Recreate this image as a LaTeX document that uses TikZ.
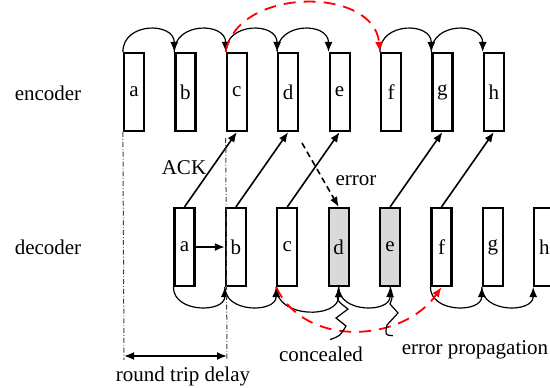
\documentclass[tikz,border=0pt]{standalone}
\usepackage{fontspec}
\setmainfont{Liberation Serif}
\usepackage{tikz}
\usetikzlibrary{arrows.meta,calc,positioning}

\begin{document}
\begin{tikzpicture}[x=0.5pt, y=0.5pt, font=\fontsize{10.5}{12}\selectfont,
  frame/.style={draw, line width=1.1pt, minimum width=10pt, minimum height=39pt, inner sep=0pt},
  lost/.style={frame, fill=black!15},
  hop/.style={line width=0.6pt, -{Latex[length=5pt,width=4pt]}},
  ack/.style={line width=0.8pt, -{Latex[length=5pt,width=4pt]}},
  jump/.style={red, line width=0.9pt, dash pattern=on 6pt off 4pt, -{Latex[length=5pt,width=4pt]}},
  guide/.style={gray!50!black, line width=0.5pt, dash pattern=on 2.5pt off 1pt on 0.4pt off 1pt},
  callout/.style={line width=0.6pt}]
\useasboundingbox (0,0) rectangle (550,-387);
\node (enc) at (48,-93) {encoder};
\node (dec) at (48,-247) {decoder};
% encoder
\node[frame] (ea) at (134,-92) {a};
\node[frame] (eb) at (185.4,-92) {b};
\node[frame] (ec) at (236.8,-92) {c};
\node[frame] (ed) at (288.2,-92) {d};
\node[frame] (ee) at (339.6,-92) {e};
\node[frame] (ef) at (391,-92) {f};
\node[frame] (eg) at (442.4,-92) {g};
\node[frame] (eh) at (493.8,-92) {h};
% decoder
\node[frame] (da) at (184.5,-247) {a};
\node[frame] (db) at (235.9,-247) {b};
\node[frame] (dc) at (287.3,-247) {c};
\node[lost] (dd) at (338.7,-247) {d};
\node[lost] (de) at (390.1,-247) {e};
\node[frame] (df) at (441.5,-247) {f};
\node[frame] (dg) at (492.9,-247) {g};
\node[frame] (dh) at (544.3,-247) {h};
\draw[hop] (ea.north west) to[out=90, in=90, looseness=1.5] (eb.north west);
\draw[hop] (eb.north west) to[out=90, in=90, looseness=1.5] (ec.north west);
\draw[hop] (ec.north west) to[out=90, in=90, looseness=1.5] (ed.north west);
\draw[hop] (ed.north west) to[out=90, in=90, looseness=1.5] (ee.north west);
\draw[hop] (ef.north west) to[out=90, in=90, looseness=1.5] (eg.north west);
\draw[hop] (eg.north west) to[out=90, in=90, looseness=1.5] (eh.north west);
\draw[jump] (ec.north west) to[out=80, in=95, looseness=1.1] (ef.north west);
\draw[hop] (da.south west) to[out=-90, in=-90, looseness=1.3] (db.south west);
\draw[hop] (db.south west) to[out=-90, in=-90, looseness=1.3] (dc.south west);
\draw[hop] (dc.south west) to[out=-90, in=-90, looseness=1.3] (dd.south);
\draw[hop] (dd.south) to[out=-90, in=-90, looseness=1.3] (de.south);
\draw[hop] (df.south west) to[out=-90, in=-90, looseness=1.3] (dg.south west);
\draw[hop] (dg.south west) to[out=-90, in=-90, looseness=1.3] (dh.south west);
\draw[jump] (dc.south west) to[out=-65, in=-125, looseness=1.05] (df.south);
\draw[hop, line width=0.8pt] (da.east) -- (db.west);
% acknowledgements
\draw[ack] (da.north) -- (ec.south);
\draw[ack] (db.north) -- (ed.south);
\draw[ack] (dc.north) -- (ee.south);
\draw[ack] (de.north) -- (eg.south);
\draw[ack] (df.north) -- (eh.south);
\node (ackl) at (184,-168) {ACK};
\coordinate (errsrc) at (302,-143);
\draw[ack, densely dashed] (errsrc) -- (dd.north);
\node (err) at (356,-181) {error};
% round trip delay
\coordinate (l1) at (124,-356);
\coordinate (l2) at (227,-356);
\draw[guide] (ea.south west) -- ($(l1)+(0,-4)$);
\draw[guide] ($(ec.south west)+(0,-6)$) -- ($(l2)+(0,-4)$);
\draw[line width=0.9pt, {Latex[length=5pt,width=4pt]}-{Latex[length=5pt,width=4pt]}] (l1) -- (l2);
\node (rtd) at (183,-376) {round trip delay};
% callouts
\node (conc) at (321,-354) {concealed};
\node (ep) at (475,-350) {error propagation};
\draw[callout] ($(conc.north)+(9,0)$) .. controls (340,-336) .. (346,-326) -- (336,-318) -- (348,-309) .. controls (336,-300) .. (dd.south);
\draw[callout] ($(ep.north west)+(-2,-2)$) .. controls (385,-335) .. (387,-325) -- (398,-313) -- (390,-304) .. controls (393,-296) .. (de.south);
\end{tikzpicture}
\end{document}
